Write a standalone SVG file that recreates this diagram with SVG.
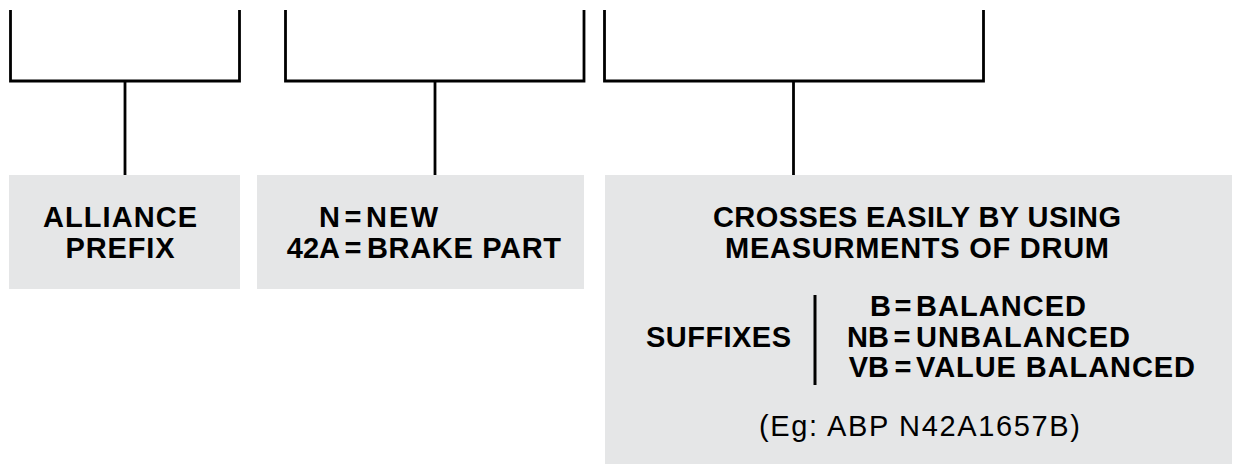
<svg xmlns="http://www.w3.org/2000/svg" width="1233" height="464" viewBox="0 0 1233 464">
<style>
.box{fill:#e5e6e7}
.ln{fill:none;stroke:#000;stroke-width:2.8;stroke-linejoin:miter;stroke-linecap:butt}
.t{font-family:"Liberation Sans",Arial,sans-serif;font-weight:bold;font-size:29px;fill:#000}
.r{font-family:"Liberation Sans",Arial,sans-serif;font-weight:normal;font-size:29px;fill:#000}
.m{text-anchor:middle}
.e{text-anchor:end}
</style>
<rect width="1233" height="464" fill="#fff"/>
<g id="connectors">
<path class="ln" d="M10.5,10 V81 H239.5 V10"/>
<path class="ln" d="M125,81 V175"/>
<path class="ln" d="M285.5,10 V81 H584 V10"/>
<path class="ln" d="M435,81 V175"/>
<path class="ln" d="M604.5,10 V81 H983.5 V10"/>
<path class="ln" d="M793.5,81 V175"/>
</g>
<g id="node-prefix">
<rect class="box" x="9" y="175" width="231" height="114"/>
<text class="t m" x="120" y="227" textLength="154">ALLIANCE</text>
<text class="t m" x="120" y="258" textLength="109">PREFIX</text>
</g>
<g id="node-brake">
<rect class="box" x="257" y="175" width="327" height="114"/>
<text class="t e" x="340" y="227">N</text>
<text class="t m" x="353" y="227">=</text>
<text class="t" x="366" y="227" textLength="72">NEW</text>
<text class="t e" x="340" y="258">42A</text>
<text class="t m" x="353" y="258">=</text>
<text class="t" x="367" y="258" textLength="194">BRAKE PART</text>
</g>
<g id="node-drum">
<rect class="box" x="605" y="175" width="627" height="289"/>
<text class="t m" x="917" y="227" textLength="408">CROSSES EASILY BY USING</text>
<text class="t m" x="917" y="258" textLength="384">MEASURMENTS OF DRUM</text>
<text class="t m" x="718.5" y="347" textLength="145">SUFFIXES</text>
<line x1="815" y1="295" x2="815" y2="385" stroke="#000" stroke-width="3"/>
<text class="t e" x="891" y="316">B</text>
<text class="t m" x="903" y="316">=</text>
<text class="t" x="916" y="316" textLength="170">BALANCED</text>
<text class="t e" x="889" y="347">NB</text>
<text class="t m" x="902" y="347">=</text>
<text class="t" x="916" y="347" textLength="214">UNBALANCED</text>
<text class="t e" x="889" y="377">VB</text>
<text class="t m" x="903" y="377">=</text>
<text class="t" x="916" y="377" textLength="279">VALUE BALANCED</text>
<text class="r m" x="919.5" y="436" textLength="321">(Eg: ABP N42A1657B)</text>
</g>
</svg>
